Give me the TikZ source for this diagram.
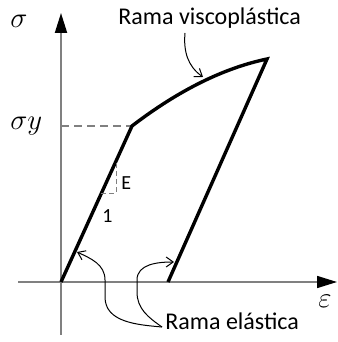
\documentclass[tikz,border=0pt]{standalone}
\usepackage{fontspec}
\setmainfont{Carlito}
\usepackage{amsmath}
\usetikzlibrary{arrows.meta,calc}

\begin{document}
\begin{tikzpicture}[x=0.5pt,y=0.5pt,
	axis/.style={draw=gray,line width=1pt,-{Triangle[length=10pt,width=6pt,black]}},
	branch/.style={line width=1.7pt,line join=miter},
	note/.style={line width=0.5pt,-{Straight Barb[length=3.5pt,width=5pt]}},
	lbl/.style={font=\fontsize{12}{14}\selectfont,inner sep=0pt,anchor=base west},
	sym/.style={font=\fontsize{15}{18}\selectfont,inner sep=0pt,anchor=base west}]
	
	\useasboundingbox (0,0) rectangle (337,342);
	
	% points of the curve
	\coordinate (O) at (61,60);
	\coordinate (Yp) at (132,216);
	\coordinate (P) at (267,283);
	\coordinate (U) at (168,60);
	
	% axes
	\draw[axis] (61,7) -- (61,329);
	\draw[axis,line width=0.8pt] (18,60) -- (337,60);
	
	\node[sym] (sig) at (10,314) {$\sigma$};
	\node[sym] (sigy) at (10,212) {$\sigma y$};
	\node[sym] (eps) at (318,34) {$\varepsilon$};
	
	\draw[gray,dashed,line width=0.6pt,dash pattern=on 4pt off 2.5pt] (61,216) -- (Yp);
	
	% load and unload
	\draw[branch] (O) -- (Yp) .. controls (179,252) and (224,274) .. (P) -- (U);
	
	% slope
	\coordinate (s1) at ($(O)!0.57!(Yp)$);
	\coordinate (s2) at ($(O)!0.776!(Yp)$);
	\draw[gray,line width=0.5pt,dash pattern=on 2.5pt off 1.5pt] (s1) -- (s2 |- s1) -- (s2);
	\node[lbl,font=\fontsize{10}{12}\selectfont] (E) at (121,152) {E};
	\node[lbl,font=\fontsize{10}{12}\selectfont] (one) at (102,119) {1};
	
	% labels with arrows
	\node[lbl] (vis) at (118,317) {Rama viscoplástica};
	\node[lbl] (ela) at (165,12) {Rama elástica};
	
	\coordinate (visA) at (185,309);
	\coordinate (visB) at (203,265);
	\coordinate (elaA) at (162,15);
	\coordinate (elaB) at (77,90);
	\coordinate (elaC) at (174,80);
	
	\draw[note] (visA) to[out=-95,in=145] (visB);
	\draw[note] (elaA) to[out=175,in=-90] (105,45) -- (105,62) to[out=90,in=-25] (elaB);
	\draw[note] (elaA) to[out=145,in=-90] (137,50) -- (137,62) to[out=90,in=180] (elaC);
	
\end{tikzpicture}
\end{document}
